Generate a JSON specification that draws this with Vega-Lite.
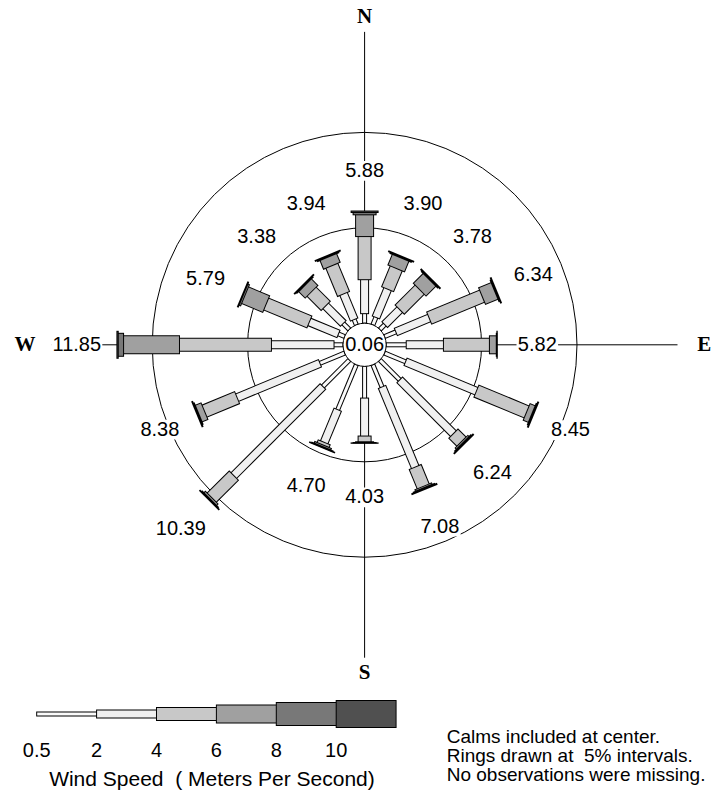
{
  "$schema": "https://vega.github.io/schema/vega-lite/v6.json",
  "width": 727,
  "height": 792,
  "padding": 0,
  "autosize": {"type": "none"},
  "background": "white",
  "config": {"view": {"stroke": null}},
  "datasets": {
    "bars": [
      {"dir":"N","angle":0,"bin":1,"pct":0.50},{"dir":"N","angle":0,"bin":2,"pct":1.78},{"dir":"N","angle":0,"bin":3,"pct":2.26},{"dir":"N","angle":0,"bin":4,"pct":1.14},{"dir":"N","angle":0,"bin":5,"pct":0.12},{"dir":"N","angle":0,"bin":6,"pct":0.08},
      {"dir":"NNE","angle":22.5,"bin":1,"pct":0.42},{"dir":"NNE","angle":22.5,"bin":2,"pct":1.60},{"dir":"NNE","angle":22.5,"bin":3,"pct":1.18},{"dir":"NNE","angle":22.5,"bin":4,"pct":0.60},{"dir":"NNE","angle":22.5,"bin":5,"pct":0.05},{"dir":"NNE","angle":22.5,"bin":6,"pct":0.05},
      {"dir":"NE","angle":45,"bin":1,"pct":0.36},{"dir":"NE","angle":45,"bin":2,"pct":1.11},{"dir":"NE","angle":45,"bin":3,"pct":1.48},{"dir":"NE","angle":45,"bin":4,"pct":0.73},{"dir":"NE","angle":45,"bin":5,"pct":0.05},{"dir":"NE","angle":45,"bin":6,"pct":0.05},
      {"dir":"ENE","angle":67.5,"bin":1,"pct":0.64},{"dir":"ENE","angle":67.5,"bin":2,"pct":1.89},{"dir":"ENE","angle":67.5,"bin":3,"pct":3.00},{"dir":"ENE","angle":67.5,"bin":4,"pct":0.71},{"dir":"ENE","angle":67.5,"bin":5,"pct":0.05},{"dir":"ENE","angle":67.5,"bin":6,"pct":0.05},
      {"dir":"E","angle":90,"bin":1,"pct":1.05},{"dir":"E","angle":90,"bin":2,"pct":1.95},{"dir":"E","angle":90,"bin":3,"pct":2.41},{"dir":"E","angle":90,"bin":4,"pct":0.36},{"dir":"E","angle":90,"bin":5,"pct":0.03},{"dir":"E","angle":90,"bin":6,"pct":0.02},
      {"dir":"ESE","angle":112.5,"bin":1,"pct":1.19},{"dir":"ESE","angle":112.5,"bin":2,"pct":4.02},{"dir":"ESE","angle":112.5,"bin":3,"pct":2.85},{"dir":"ESE","angle":112.5,"bin":4,"pct":0.29},{"dir":"ESE","angle":112.5,"bin":5,"pct":0.05},{"dir":"ESE","angle":112.5,"bin":6,"pct":0.05},
      {"dir":"SE","angle":135,"bin":1,"pct":1.47},{"dir":"SE","angle":135,"bin":2,"pct":3.98},{"dir":"SE","angle":135,"bin":3,"pct":0.60},{"dir":"SE","angle":135,"bin":4,"pct":0.09},{"dir":"SE","angle":135,"bin":5,"pct":0.05},{"dir":"SE","angle":135,"bin":6,"pct":0.05},
      {"dir":"SSE","angle":157.5,"bin":1,"pct":1.26},{"dir":"SSE","angle":157.5,"bin":2,"pct":4.54},{"dir":"SSE","angle":157.5,"bin":3,"pct":1.10},{"dir":"SSE","angle":157.5,"bin":4,"pct":0.08},{"dir":"SSE","angle":157.5,"bin":5,"pct":0.05},{"dir":"SSE","angle":157.5,"bin":6,"pct":0.05},
      {"dir":"S","angle":180,"bin":1,"pct":1.66},{"dir":"S","angle":180,"bin":2,"pct":1.99},{"dir":"S","angle":180,"bin":3,"pct":0.30},{"dir":"S","angle":180,"bin":4,"pct":0.04},{"dir":"S","angle":180,"bin":5,"pct":0.02},{"dir":"S","angle":180,"bin":6,"pct":0.02},
      {"dir":"SSW","angle":202.5,"bin":1,"pct":2.55},{"dir":"SSW","angle":202.5,"bin":2,"pct":1.85},{"dir":"SSW","angle":202.5,"bin":3,"pct":0.15},{"dir":"SSW","angle":202.5,"bin":4,"pct":0.09},{"dir":"SSW","angle":202.5,"bin":5,"pct":0.03},{"dir":"SSW","angle":202.5,"bin":6,"pct":0.03},
      {"dir":"SW","angle":225,"bin":1,"pct":1.96},{"dir":"SW","angle":225,"bin":2,"pct":6.60},{"dir":"SW","angle":225,"bin":3,"pct":1.64},{"dir":"SW","angle":225,"bin":4,"pct":0.10},{"dir":"SW","angle":225,"bin":5,"pct":0.05},{"dir":"SW","angle":225,"bin":6,"pct":0.04},
      {"dir":"WSW","angle":247.5,"bin":1,"pct":1.40},{"dir":"WSW","angle":247.5,"bin":2,"pct":4.70},{"dir":"WSW","angle":247.5,"bin":3,"pct":1.85},{"dir":"WSW","angle":247.5,"bin":4,"pct":0.33},{"dir":"WSW","angle":247.5,"bin":5,"pct":0.05},{"dir":"WSW","angle":247.5,"bin":6,"pct":0.05},
      {"dir":"W","angle":270,"bin":1,"pct":0.47},{"dir":"W","angle":270,"bin":2,"pct":3.28},{"dir":"W","angle":270,"bin":3,"pct":4.82},{"dir":"W","angle":270,"bin":4,"pct":2.93},{"dir":"W","angle":270,"bin":5,"pct":0.28},{"dir":"W","angle":270,"bin":6,"pct":0.07},
      {"dir":"WNW","angle":292.5,"bin":1,"pct":0.35},{"dir":"WNW","angle":292.5,"bin":2,"pct":1.65},{"dir":"WNW","angle":292.5,"bin":3,"pct":2.45},{"dir":"WNW","angle":292.5,"bin":4,"pct":1.20},{"dir":"WNW","angle":292.5,"bin":5,"pct":0.09},{"dir":"WNW","angle":292.5,"bin":6,"pct":0.05},
      {"dir":"NW","angle":315,"bin":1,"pct":0.45},{"dir":"NW","angle":315,"bin":2,"pct":1.30},{"dir":"NW","angle":315,"bin":3,"pct":1.05},{"dir":"NW","angle":315,"bin":4,"pct":0.48},{"dir":"NW","angle":315,"bin":5,"pct":0.05},{"dir":"NW","angle":315,"bin":6,"pct":0.05},
      {"dir":"NNW","angle":337.5,"bin":1,"pct":0.30},{"dir":"NNW","angle":337.5,"bin":2,"pct":1.45},{"dir":"NNW","angle":337.5,"bin":3,"pct":1.60},{"dir":"NNW","angle":337.5,"bin":4,"pct":0.49},{"dir":"NNW","angle":337.5,"bin":5,"pct":0.05},{"dir":"NNW","angle":337.5,"bin":6,"pct":0.05}
    ],
    "compass": [
      {"label":"N","angle":0},{"label":"E","angle":90},{"label":"S","angle":180},{"label":"W","angle":270}
    ],
    "rings": [{"ring":0},{"ring":5},{"ring":10}],
    "calm": [{"calm":0.06}],
    "legend": [
      {"bin":1,"lo":"0.5"},{"bin":2,"lo":"2"},{"bin":3,"lo":"4"},{"bin":4,"lo":"6"},{"bin":5,"lo":"8"},{"bin":6,"lo":"10"}
    ],
    "notes": [
      {"title": "Wind Speed \u00a0( Meters Per Second)", "note": ["Calms included at center.", "Rings drawn at \u00a05% intervals.", "No observations were missing."]}
    ]
  },
  "layer": [
    {
      "data": {"name": "compass"},
      "transform": [
        {"calculate": "0", "as": "zero"},
        {"calculate": "16.4*sin(datum.angle*PI/180)", "as": "ex"},
        {"calculate": "16.4*cos(datum.angle*PI/180)", "as": "ey"}
      ],
      "mark": {"type": "rule", "color": "black", "strokeWidth": 1},
      "encoding": {
        "x": {"field": "zero", "type": "quantitative", "scale": {"domain": [-19.109, 18.994], "nice": false, "zero": false}, "axis": null},
        "y": {"field": "zero", "type": "quantitative", "scale": {"domain": [-23.438, 18.071], "nice": false, "zero": false}, "axis": null},
        "x2": {"field": "ex"},
        "y2": {"field": "ey"}
      }
    },
    {
      "data": {"name": "rings"},
      "transform": [
        {"filter": "datum.ring > 0"},
        {"calculate": "0", "as": "zero"},
        {"calculate": "1.132 + datum.ring", "as": "u"}
      ],
      "mark": {"type": "point", "shape": "circle", "filled": false, "stroke": "black", "strokeWidth": 1, "opacity": 1},
      "encoding": {
        "x": {"field": "zero", "type": "quantitative", "scale": {"domain": [-19.109, 18.994], "nice": false, "zero": false}, "axis": null},
        "y": {"field": "zero", "type": "quantitative", "scale": {"domain": [-23.438, 18.071], "nice": false, "zero": false}, "axis": null},
        "size": {"field": "u", "type": "quantitative", "scale": {"type": "pow", "exponent": 2, "domain": [0, 1], "range": [0, 1456.2]}, "legend": null}
      }
    },
    {
      "data": {"name": "bars"},
      "transform": [
        {"stack": "pct", "groupby": ["dir"], "sort": [{"field": "bin", "order": "ascending"}], "as": ["p0", "p1"]},
        {"calculate": "datum.angle*PI/180", "as": "a"},
        {"calculate": "1.132 + datum.p0 - 0.026", "as": "r0"},
        {"calculate": "1.132 + datum.p1 + 0.026", "as": "r1"},
        {"calculate": "datum.r0*sin(datum.a)", "as": "bx1"},
        {"calculate": "datum.r0*cos(datum.a)", "as": "by1"},
        {"calculate": "datum.r1*sin(datum.a)", "as": "bx2"},
        {"calculate": "datum.r1*cos(datum.a)", "as": "by2"}
      ],
      "mark": {"type": "rule", "color": "black", "strokeCap": "butt"},
      "encoding": {
        "x": {"field": "bx1", "type": "quantitative", "scale": {"domain": [-19.109, 18.994], "nice": false, "zero": false}, "axis": null},
        "y": {"field": "by1", "type": "quantitative", "scale": {"domain": [-23.438, 18.071], "nice": false, "zero": false}, "axis": null},
        "x2": {"field": "bx2"},
        "y2": {"field": "by2"},
        "strokeWidth": {"field": "bin", "type": "quantitative", "scale": {"type": "threshold", "domain": [1.5, 2.5, 3.5, 4.5, 5.5, 10, 11.5, 12.5, 13.5, 14.5, 15.5], "range": [5, 9, 14, 19, 24, 28, 3, 7, 12, 17, 22, 26]}, "legend": null}
      }
    },
    {
      "data": {"name": "bars"},
      "transform": [
        {"stack": "pct", "groupby": ["dir"], "sort": [{"field": "bin", "order": "ascending"}], "as": ["p0", "p1"]},
        {"calculate": "datum.angle*PI/180", "as": "a"},
        {"calculate": "datum.bin + 10", "as": "fb"},
        {"calculate": "1.132 + datum.p0 + 0.026", "as": "r0"},
        {"calculate": "max(1.132 + datum.p1 - 0.026, datum.r0)", "as": "r1"},
        {"calculate": "datum.r0*sin(datum.a)", "as": "fx1"},
        {"calculate": "datum.r0*cos(datum.a)", "as": "fy1"},
        {"calculate": "datum.r1*sin(datum.a)", "as": "fx2"},
        {"calculate": "datum.r1*cos(datum.a)", "as": "fy2"}
      ],
      "mark": {"type": "rule", "strokeCap": "butt"},
      "encoding": {
        "x": {"field": "fx1", "type": "quantitative", "scale": {"domain": [-19.109, 18.994], "nice": false, "zero": false}, "axis": null},
        "y": {"field": "fy1", "type": "quantitative", "scale": {"domain": [-23.438, 18.071], "nice": false, "zero": false}, "axis": null},
        "x2": {"field": "fx2"},
        "y2": {"field": "fy2"},
        "stroke": {"field": "bin", "type": "ordinal", "scale": {"domain": [1, 2, 3, 4, 5, 6], "range": ["#fafafa", "#f0f0f0", "#c8c8c8", "#a0a0a0", "#787878", "#505050"]}, "legend": null},
        "strokeWidth": {"field": "fb", "type": "quantitative", "scale": {"type": "threshold", "domain": [1.5, 2.5, 3.5, 4.5, 5.5, 10, 11.5, 12.5, 13.5, 14.5, 15.5], "range": [5, 9, 14, 19, 24, 28, 3, 7, 12, 17, 22, 26]}, "legend": null}
      }
    },
    {
      "data": {"name": "rings"},
      "transform": [
        {"filter": "datum.ring == 0"},
        {"calculate": "0", "as": "zero"},
        {"calculate": "1.132 + datum.ring", "as": "u"}
      ],
      "mark": {"type": "point", "shape": "circle", "filled": true, "fill": "white", "stroke": "black", "strokeWidth": 1, "opacity": 1},
      "encoding": {
        "x": {"field": "zero", "type": "quantitative", "scale": {"domain": [-19.109, 18.994], "nice": false, "zero": false}, "axis": null},
        "y": {"field": "zero", "type": "quantitative", "scale": {"domain": [-23.438, 18.071], "nice": false, "zero": false}, "axis": null},
        "size": {"field": "u", "type": "quantitative", "scale": {"type": "pow", "exponent": 2, "domain": [0, 1], "range": [0, 1456.2]}, "legend": null}
      }
    },
    {
      "data": {"name": "calm"},
      "transform": [{"calculate": "0", "as": "zero"}],
      "mark": {"type": "text", "font": "Liberation Sans", "fontSize": 20, "align": "center", "baseline": "middle", "color": "black"},
      "encoding": {
        "x": {"field": "zero", "type": "quantitative", "scale": {"domain": [-19.109, 18.994], "nice": false, "zero": false}, "axis": null},
        "y": {"field": "zero", "type": "quantitative", "scale": {"domain": [-23.438, 18.071], "nice": false, "zero": false}, "axis": null},
        "text": {"field": "calm", "type": "quantitative", "format": ".2f"}
      }
    },
    {
      "data": {"name": "bars"},
      "transform": [
        {"aggregate": [{"op": "sum", "field": "pct", "as": "total"}], "groupby": ["dir", "angle"]},
        {"calculate": "max(1.132 + datum.total, 5.9) + 2.1", "as": "rl"},
        {"calculate": "datum.rl*sin(datum.angle*PI/180)", "as": "lx"},
        {"calculate": "datum.rl*cos(datum.angle*PI/180)", "as": "ly"},
        {"calculate": "datum.total >= 10 ? 'wide' : 'narrow'", "as": "w"}
      ],
      "mark": {"type": "point", "filled": true, "fill": "white", "strokeWidth": 0, "opacity": 1, "size": 2704},
      "encoding": {
        "x": {"field": "lx", "type": "quantitative", "scale": {"domain": [-19.109, 18.994], "nice": false, "zero": false}, "axis": null},
        "y": {"field": "ly", "type": "quantitative", "scale": {"domain": [-23.438, 18.071], "nice": false, "zero": false}, "axis": null},
        "shape": {"field": "w", "type": "nominal", "scale": {"domain": ["narrow", "wide"], "range": ["M-0.8,-0.38L0.8,-0.38L0.8,0.38L-0.8,0.38Z", "M-0.98,-0.38L0.98,-0.38L0.98,0.38L-0.98,0.38Z"]}, "legend": null}
      }
    },
    {
      "data": {"name": "bars"},
      "transform": [
        {"aggregate": [{"op": "sum", "field": "pct", "as": "total"}], "groupby": ["dir", "angle"]},
        {"calculate": "max(1.132 + datum.total, 5.9) + 2.1", "as": "rl"},
        {"calculate": "datum.rl*sin(datum.angle*PI/180)", "as": "lx"},
        {"calculate": "datum.rl*cos(datum.angle*PI/180)", "as": "ly"}
      ],
      "mark": {"type": "text", "font": "Liberation Sans", "fontSize": 20, "align": "center", "baseline": "middle", "color": "black"},
      "encoding": {
        "x": {"field": "lx", "type": "quantitative", "scale": {"domain": [-19.109, 18.994], "nice": false, "zero": false}, "axis": null},
        "y": {"field": "ly", "type": "quantitative", "scale": {"domain": [-23.438, 18.071], "nice": false, "zero": false}, "axis": null},
        "text": {"field": "total", "type": "quantitative", "format": ".2f"}
      }
    },
    {
      "data": {"name": "compass"},
      "transform": [
        {"calculate": "17.2 + 0.6*abs(sin(datum.angle*PI/180))", "as": "rc"},
        {"calculate": "datum.rc*sin(datum.angle*PI/180)", "as": "cx"},
        {"calculate": "datum.rc*cos(datum.angle*PI/180)", "as": "cy"}
      ],
      "mark": {"type": "text", "font": "Liberation Serif", "fontWeight": "bold", "fontSize": 21, "align": "center", "baseline": "middle", "color": "black"},
      "encoding": {
        "x": {"field": "cx", "type": "quantitative", "scale": {"domain": [-19.109, 18.994], "nice": false, "zero": false}, "axis": null},
        "y": {"field": "cy", "type": "quantitative", "scale": {"domain": [-23.438, 18.071], "nice": false, "zero": false}, "axis": null},
        "text": {"field": "label", "type": "nominal"}
      }
    },
    {
      "data": {"name": "legend"},
      "transform": [
        {"calculate": "-17.186 + (datum.bin - 1)*3.1394", "as": "s0"},
        {"calculate": "-19.35", "as": "ly"},
        {"calculate": "datum.s0 - 0.026", "as": "lx1"},
        {"calculate": "datum.s0 + 3.1394 + 0.026", "as": "lx2"}
      ],
      "mark": {"type": "rule", "color": "black", "strokeCap": "butt"},
      "encoding": {
        "x": {"field": "lx1", "type": "quantitative", "scale": {"domain": [-19.109, 18.994], "nice": false, "zero": false}, "axis": null},
        "x2": {"field": "lx2"},
        "y": {"field": "ly", "type": "quantitative", "scale": {"domain": [-23.438, 18.071], "nice": false, "zero": false}, "axis": null},
        "strokeWidth": {"field": "bin", "type": "quantitative", "scale": {"type": "threshold", "domain": [1.5, 2.5, 3.5, 4.5, 5.5, 10, 11.5, 12.5, 13.5, 14.5, 15.5], "range": [5, 9, 14, 19, 24, 28, 3, 7, 12, 17, 22, 26]}, "legend": null}
      }
    },
    {
      "data": {"name": "legend"},
      "transform": [
        {"calculate": "-17.186 + (datum.bin - 1)*3.1394", "as": "s0"},
        {"calculate": "-19.35", "as": "ly"},
        {"calculate": "datum.bin + 10", "as": "fb"},
        {"calculate": "datum.s0 + 0.026", "as": "lx1"},
        {"calculate": "datum.s0 + 3.1394 - 0.026", "as": "lx2"}
      ],
      "mark": {"type": "rule", "strokeCap": "butt"},
      "encoding": {
        "x": {"field": "lx1", "type": "quantitative", "scale": {"domain": [-19.109, 18.994], "nice": false, "zero": false}, "axis": null},
        "x2": {"field": "lx2"},
        "y": {"field": "ly", "type": "quantitative", "scale": {"domain": [-23.438, 18.071], "nice": false, "zero": false}, "axis": null},
        "stroke": {"field": "bin", "type": "ordinal", "scale": {"domain": [1, 2, 3, 4, 5, 6], "range": ["#fafafa", "#f0f0f0", "#c8c8c8", "#a0a0a0", "#787878", "#505050"]}, "legend": null},
        "strokeWidth": {"field": "fb", "type": "quantitative", "scale": {"type": "threshold", "domain": [1.5, 2.5, 3.5, 4.5, 5.5, 10, 11.5, 12.5, 13.5, 14.5, 15.5], "range": [5, 9, 14, 19, 24, 28, 3, 7, 12, 17, 22, 26]}, "legend": null}
      }
    },
    {
      "data": {"name": "legend"},
      "transform": [
        {"calculate": "-17.186 + (datum.bin - 1)*3.1394", "as": "s0"},
        {"calculate": "-21.59", "as": "ty"}
      ],
      "mark": {"type": "text", "font": "Liberation Sans", "fontSize": 20, "align": "center", "baseline": "alphabetic", "color": "black"},
      "encoding": {
        "x": {"field": "s0", "type": "quantitative", "scale": {"domain": [-19.109, 18.994], "nice": false, "zero": false}, "axis": null},
        "y": {"field": "ty", "type": "quantitative", "scale": {"domain": [-23.438, 18.071], "nice": false, "zero": false}, "axis": null},
        "text": {"field": "lo", "type": "nominal"}
      }
    },
    {
      "data": {"name": "notes"},
      "transform": [
        {"calculate": "-8.0", "as": "tx"},
        {"calculate": "-23.124", "as": "ty"}
      ],
      "mark": {"type": "text", "font": "Liberation Sans", "fontSize": 21, "align": "center", "baseline": "alphabetic", "color": "black"},
      "encoding": {
        "x": {"field": "tx", "type": "quantitative", "scale": {"domain": [-19.109, 18.994], "nice": false, "zero": false}, "axis": null},
        "y": {"field": "ty", "type": "quantitative", "scale": {"domain": [-23.438, 18.071], "nice": false, "zero": false}, "axis": null},
        "text": {"field": "title", "type": "nominal"}
      }
    },
    {
      "data": {"name": "notes"},
      "transform": [
        {"calculate": "4.303", "as": "tx"},
        {"calculate": "-20.87", "as": "ty"}
      ],
      "mark": {"type": "text", "font": "Liberation Sans", "fontSize": 19, "align": "left", "baseline": "alphabetic", "lineHeight": 19, "color": "black"},
      "encoding": {
        "x": {"field": "tx", "type": "quantitative", "scale": {"domain": [-19.109, 18.994], "nice": false, "zero": false}, "axis": null},
        "y": {"field": "ty", "type": "quantitative", "scale": {"domain": [-23.438, 18.071], "nice": false, "zero": false}, "axis": null},
        "text": {"field": "note"}
      }
    }
  ]
}
